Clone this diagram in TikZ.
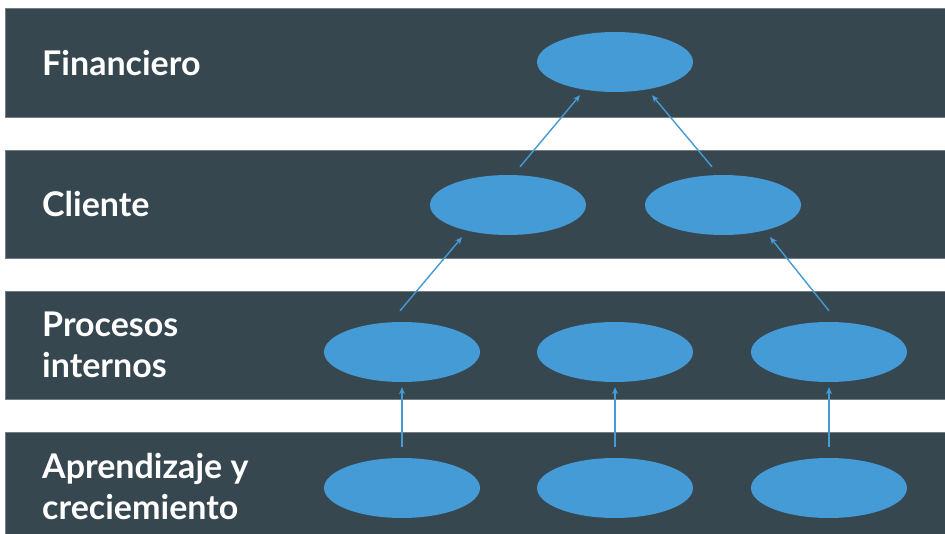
\documentclass[tikz,border=0pt]{standalone}
\usepackage{fontspec}
\setmainfont{Lato}
\usetikzlibrary{arrows.meta,shapes.geometric}
\definecolor{bandcol}{RGB}{55,71,79}
\definecolor{nodeblue}{RGB}{69,155,213}
\tikzset{
  band/.style={fill=bandcol, draw=bandcol!70!white, line width=0.6pt},
  goal/.style={ellipse, fill=nodeblue, minimum width=156pt, minimum height=60pt, inner sep=0pt},
  lbl/.style={anchor=base west, text=white, font=\fontsize{34}{41}\selectfont\bfseries, align=left, inner sep=0pt},
  link/.style={draw=nodeblue, line width=1.4pt, -{Stealth[length=7pt,width=6pt]}}
}
\begin{document}
\begin{tikzpicture}[x=1pt, y=-1pt]
  \useasboundingbox (0,0) rectangle (945,534);
  \fill[white] (0,0) rectangle (945,534);
  % perspective bands
  \path[band] (5,8) rectangle (950,117);
  \path[band] (5,150) rectangle (950,258);
  \path[band] (5,291) rectangle (950,399);
  \path[band] (5,432) rectangle (950,540);
  % band titles (base anchor sits on the last line)
  \node[lbl] (tF) at (42,76) {Financiero};
  \node[lbl] (tC) at (42,217) {Cliente};
  \node[lbl] (tP) at (42,378) {Procesos\\internos};
  \node[lbl] (tA) at (42,519) {Aprendizaje y\\creciemiento};
  % objectives
  \node[goal] (f)  at (615,62) {};
  \node[goal] (c1) at (508,205) {};
  \node[goal] (c2) at (723,205) {};
  \node[goal] (p1) at (402,352) {};
  \node[goal] (p2) at (615,352) {};
  \node[goal] (p3) at (829,352) {};
  \node[goal] (a1) at (402,488) {};
  \node[goal] (a2) at (615,488) {};
  \node[goal] (a3) at (829,488) {};
  % cause-effect links
  \draw[link] ([shift={(12,-8)}]c1.north) -- ([shift={(-35,3)}]f.south);
  \draw[link] ([shift={(-11,-8)}]c2.north) -- ([shift={(37,3)}]f.south);
  \draw[link] ([shift={(-2,-11)}]p1.north) -- ([shift={(-46,2)}]c1.south);
  \draw[link] ([shift={(0,-11)}]p3.north) -- ([shift={(47,2)}]c2.south);
  \draw[link] ([shift={(0,-11)}]a1.north) -- ([shift={(0,5)}]p1.south);
  \draw[link] ([shift={(0,-11)}]a2.north) -- ([shift={(0,5)}]p2.south);
  \draw[link] ([shift={(0,-11)}]a3.north) -- ([shift={(0,5)}]p3.south);
\end{tikzpicture}
\end{document}
